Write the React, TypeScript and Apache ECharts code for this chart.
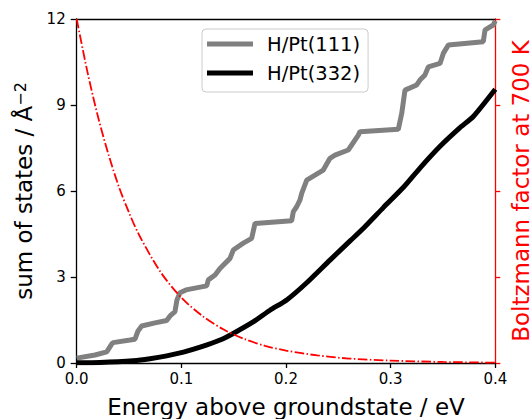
import React, { useEffect, useRef } from "react";
import * as echarts from "echarts";

// H/Pt(111): [energy eV, sum of states]
const pt111X = [0, 0.0175, 0.0287, 0.0334, 0.0347, 0.051, 0.0557, 0.0586, 0.0621, 0.0748, 0.086, 0.0892, 0.0939, 0.0958, 0.0987, 0.1044, 0.1242, 0.1258, 0.1322, 0.1369, 0.1465, 0.1496, 0.1592, 0.1672, 0.1704, 0.2054, 0.207, 0.2102, 0.2134, 0.215, 0.2198, 0.2356, 0.242, 0.2468, 0.2595, 0.2691, 0.2707, 0.3073, 0.3106, 0.3137, 0.3249, 0.328, 0.3328, 0.336, 0.3472, 0.3503, 0.3551, 0.3885, 0.3902, 0.3981, 0.4];
const pt111Y = [0.17, 0.28, 0.39, 0.66, 0.71, 0.8, 0.83, 1.12, 1.29, 1.4, 1.48, 1.64, 1.79, 2.2, 2.45, 2.55, 2.69, 2.9, 3.07, 3.3, 3.65, 3.94, 4.18, 4.35, 4.87, 4.96, 5.28, 5.45, 5.69, 5.92, 6.38, 6.73, 7.14, 7.25, 7.43, 7.95, 8.07, 8.15, 8.71, 9.52, 9.7, 9.87, 10.05, 10.33, 10.45, 10.8, 11.09, 11.21, 11.62, 11.79, 11.94];

// H/Pt(332)
const pt332X = [0, 0.0223, 0.054, 0.07, 0.086, 0.102, 0.118, 0.137, 0.15, 0.169, 0.185, 0.2007, 0.2198, 0.242, 0.261, 0.274, 0.293, 0.312, 0.328, 0.347, 0.366, 0.379, 0.4];
const pt332Y = [0.01, 0.02, 0.08, 0.15, 0.25, 0.38, 0.55, 0.8, 1.04, 1.44, 1.85, 2.2, 2.8, 3.59, 4.25, 4.7, 5.42, 6.12, 6.8, 7.55, 8.2, 8.6, 9.55];

// Boltzmann factor at 700 K (right axis)
const boltzX = [0, 0.01, 0.02, 0.03, 0.04, 0.05, 0.06, 0.08, 0.1, 0.12, 0.14, 0.16, 0.18, 0.2, 0.23, 0.26, 0.3, 0.35, 0.4];
const boltzY = [1.0, 0.85, 0.72, 0.61, 0.515, 0.437, 0.37, 0.265, 0.19, 0.137, 0.098, 0.07, 0.05, 0.036, 0.022, 0.013, 0.007, 0.003, 0.001];

const xTicks = { min: 0, max: 0.4, interval: 0.1 };
const yTicks = { min: 0, max: 12, interval: 3 };

const FONT = "DejaVu Sans";

export default function App() {
  const ref = useRef<HTMLDivElement>(null);
  useEffect(() => {
    if (!ref.current) return;
    const chart = echarts.init(ref.current, undefined, { renderer: "svg" });
    const zip = (xs: number[], ys: number[]) => xs.map((x, i) => [x, ys[i]]);
    chart.setOption({
      animation: false,
      backgroundColor: "#fff",
      textStyle: { fontFamily: FONT },
      grid: { left: 76.7, right: 35.7, top: 19, bottom: 56, containLabel: false, outerBoundsMode: "none" },
      legend: {
        orient: "vertical",
        left: 202,
        top: 29,
        data: ["H/Pt(111)", "H/Pt(332)"],
        icon: "rect",
        itemWidth: 46,
        itemHeight: 5,
        itemGap: 7,
        padding: [4, 8, 8, 5],
        borderColor: "#cccccc",
        borderWidth: 1,
        borderRadius: 4,
        backgroundColor: "rgba(255,255,255,0.8)",
        textStyle: { fontFamily: FONT, fontSize: 19.5, color: "#000", lineHeight: 22, padding: [0, 0, 0, 9] },
      },
      xAxis: [
        {
          type: "value",
          min: xTicks.min,
          max: xTicks.max,
          interval: xTicks.interval,
          name: "Energy above groundstate / eV",
          nameLocation: "middle",
          nameGap: 32,
          nameTextStyle: { fontFamily: FONT, fontSize: 23, color: "#000" },
          axisLine: { lineStyle: { color: "#000", width: 1.3 } },
          axisTick: { show: true, length: 5, lineStyle: { color: "#000", width: 1.3 } },
          axisLabel: { fontFamily: FONT, fontSize: 15, color: "#000", margin: 8, formatter: (v: number) => v.toFixed(1) },
          splitLine: { show: false },
        },
        {
          type: "value",
          position: "top",
          min: xTicks.min,
          max: xTicks.max,
          axisLine: { show: true, onZero: false, lineStyle: { color: "#000", width: 1.3 } },
          axisTick: { show: false },
          axisLabel: { show: false },
          splitLine: { show: false },
        },
      ],
      yAxis: [
        {
          type: "value",
          min: yTicks.min,
          max: yTicks.max,
          interval: yTicks.interval,
          name: "sum of states / Å{sup|−2}",
          nameLocation: "middle",
          nameGap: 36,
          nameTextStyle: {
            fontFamily: FONT,
            fontSize: 23,
            color: "#000",
            rich: { sup: { fontFamily: FONT, fontSize: 16, verticalAlign: "top", color: "#000" } },
          },
          axisLine: { show: true, onZero: false, lineStyle: { color: "#000", width: 1.3 } },
          axisTick: { show: true, length: 6, lineStyle: { color: "#000", width: 1.3 } },
          axisLabel: { fontFamily: FONT, fontSize: 15, color: "#000", margin: 11 },
          splitLine: { show: false },
        },
        {
          type: "value",
          position: "right",
          min: 0,
          max: 1,
          interval: 0.25,
          name: "Boltzmann factor at 700 K",
          nameLocation: "middle",
          nameGap: 14,
          nameRotate: 90,
          nameTextStyle: { fontFamily: FONT, fontSize: 23, color: "#ff0000" },
          axisLine: { show: true, onZero: false, lineStyle: { color: "#ff0000", width: 1.3 } },
          axisTick: { show: true, length: 5, lineStyle: { color: "#ff0000", width: 1.3 } },
          axisLabel: { show: false },
          splitLine: { show: false },
        },
      ],
      series: [
        {
          name: "H/Pt(111)",
          type: "line",
          data: zip(pt111X, pt111Y),
          showSymbol: false,
          symbol: "none",
          itemStyle: { color: "#808080" },
          lineStyle: { color: "#808080", width: 5 },
          clip: true,
        },
        {
          name: "H/Pt(332)",
          type: "line",
          data: zip(pt332X, pt332Y),
          showSymbol: false,
          symbol: "none",
          smooth: 0.2,
          itemStyle: { color: "#000000" },
          lineStyle: { color: "#000000", width: 5 },
          clip: true,
        },
        {
          name: "Boltzmann",
          type: "line",
          yAxisIndex: 1,
          data: zip(boltzX, boltzY),
          showSymbol: false,
          symbol: "none",
          smooth: 0.3,
          itemStyle: { color: "#ff0000" },
          lineStyle: { color: "#ff0000", width: 1.8, type: [9.6, 2.4, 1.5, 2.4] },
          clip: true,
        },
      ],
    });
    return () => chart.dispose();
  }, []);
  return <div ref={ref} style={{ position: "fixed", left: 0, top: 0, width: 531, height: 419 }} />;
}
